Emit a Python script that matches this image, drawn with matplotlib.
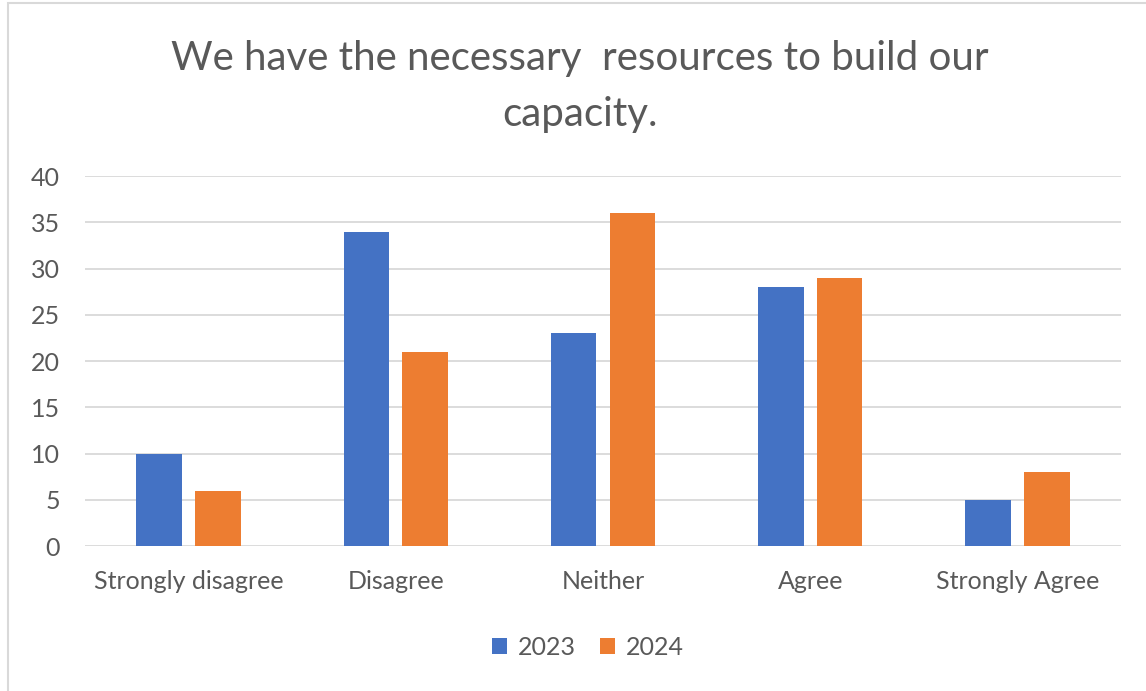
import numpy as np
import matplotlib.pyplot as plt
from matplotlib.patches import Rectangle

# data
categories = ['Strongly disagree', 'Disagree', 'Neither', 'Agree', 'Strongly Agree']
vals_2023 = [10, 34, 23, 28, 5]
vals_2024 = [6, 21, 36, 29, 8]
years = ['2023', '2024']

blue = '#4472C4'
orange = '#ED7D31'
txt = '#595959'
grid = '#D9D9D9'

plt.rcParams['font.family'] = ['Lato', 'DejaVu Sans']

fig = plt.figure(figsize=(11.46, 6.91), dpi=100)
ax = fig.add_axes([0.0742, 0.2098, 0.904, 0.5354])

x = np.arange(len(categories))
w = 0.22
off = 0.142
ax.bar(x - off, vals_2023, w, color=blue, label=years[0], zorder=3)
ax.bar(x + off, vals_2024, w, color=orange, label=years[1], zorder=3)

ax.set_xlim(-0.5, len(categories) - 0.5)
ax.set_ylim(0, 40)
ax.set_yticks(np.arange(0, 41, 5))
ax.set_xticks(x)
ax.set_xticklabels(categories)
ax.yaxis.grid(True, color=grid, linewidth=1.3, zorder=0)
for s in ax.spines.values():
    s.set_visible(False)
ax.tick_params(length=0, labelsize=18, labelcolor=txt)
ax.tick_params(axis='x', pad=17)
ax.tick_params(axis='y', pad=18)

fig.text(0.506, 0.916, 'We have the necessary  resources to build our',
         ha='center', va='center', fontsize=29, color=txt)
fig.text(0.506, 0.835, 'capacity.', ha='center', va='center', fontsize=29, color=txt)

fig.legend(loc='center', bbox_to_anchor=(0.513, 0.063), ncol=2, frameon=False,
           fontsize=18, labelcolor=txt, handlelength=0.6, handleheight=0.6,
           handletextpad=0.4, columnspacing=1.0)

# outer chart border
fig.patches.append(Rectangle((0.007, -0.01), 1.1, 1.005, transform=fig.transFigure,
                             fill=False, edgecolor=grid, linewidth=1.5))

fig.savefig('out.png', dpi=100)
